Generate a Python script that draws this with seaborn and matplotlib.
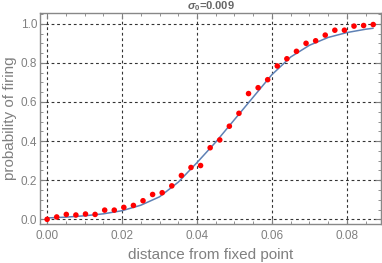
import numpy as np
import pandas as pd
import matplotlib
matplotlib.use("Agg")
import matplotlib.pyplot as plt
import seaborn as sns
from matplotlib.ticker import MultipleLocator, FormatStrFormatter

sns.set_style("white")
plt.rcParams['font.family'] = ['Liberation Sans', 'DejaVu Sans']
plt.rcParams['mathtext.fontset'] = 'custom'
plt.rcParams['mathtext.it'] = 'Liberation Sans:italic:bold'
plt.rcParams['mathtext.rm'] = 'Liberation Sans:bold'

title = "$\\sigma_0$=0.009"
xlabel = "distance from fixed point"
ylabel = "probability of firing"

dist = [0.0, 0.00256, 0.00512, 0.00768, 0.01024, 0.0128, 0.01536, 0.01792, 0.02047, 0.02303,
        0.02559, 0.02815, 0.03071, 0.03327, 0.03583, 0.03839, 0.04095, 0.04351, 0.04607, 0.04863,
        0.05119, 0.05375, 0.05631, 0.05886, 0.06142, 0.06398, 0.06654, 0.0691, 0.07166, 0.07422,
        0.07678, 0.07934, 0.0819, 0.08446, 0.08702]
prob = [0.000, 0.012, 0.025, 0.022, 0.027, 0.025, 0.047, 0.047, 0.061, 0.071,
        0.095, 0.127, 0.136, 0.171, 0.224, 0.265, 0.275, 0.366, 0.406, 0.476,
        0.542, 0.643, 0.673, 0.714, 0.784, 0.821, 0.859, 0.900, 0.913, 0.942,
        0.967, 0.967, 0.988, 0.991, 0.996]

fit_x = [0.0, 0.005, 0.01, 0.015, 0.02, 0.025, 0.03, 0.035, 0.04, 0.045,
         0.05, 0.055, 0.06, 0.065, 0.07, 0.075, 0.08, 0.085, 0.087]
fit_y = [0.007, 0.011, 0.018, 0.028, 0.044, 0.072, 0.115, 0.19, 0.29, 0.395,
         0.51, 0.625, 0.74, 0.83, 0.89, 0.93, 0.955, 0.972, 0.977]

pts = pd.DataFrame({"x": dist, "y": prob})
fit = pd.DataFrame({"x": fit_x, "y": fit_y})

fig = plt.figure(figsize=(3.82, 2.63), dpi=100)
ax = fig.add_axes([40/382, (263-224)/263, 341/382, 211/263])

sns.lineplot(data=fit, x="x", y="y", ax=ax, color="#5E81B5", lw=1.1, zorder=3)
sns.scatterplot(data=pts, x="x", y="y", ax=ax, color="#FF0000", s=16, edgecolor="none", zorder=4)

ax.set_xlim(-0.0019, 0.0891)
ax.set_ylim(-0.024, 1.055)
ax.xaxis.set_major_locator(MultipleLocator(0.02))
ax.xaxis.set_minor_locator(MultipleLocator(0.005))
ax.yaxis.set_major_locator(MultipleLocator(0.2))
ax.yaxis.set_minor_locator(MultipleLocator(0.05))
ax.xaxis.set_major_formatter(FormatStrFormatter("%.2f"))
ax.yaxis.set_major_formatter(FormatStrFormatter("%.1f"))

gc = "#808080"
ax.grid(True, which="major", color="#333333", linestyle=(0, (2.5, 2.5)), linewidth=0.8)
ax.tick_params(which="both", direction="in", colors=gc, labelcolor=gc, labelsize=8.5,
               bottom=True, left=True, top=True, right=True)
ax.tick_params(which="major", length=4, width=0.8)
ax.tick_params(axis="y", which="major", pad=2)
ax.tick_params(axis="x", which="major", pad=4)
ax.tick_params(which="minor", length=2, width=0.6)
for s in ax.spines.values():
    s.set_color("#888888")
    s.set_linewidth(1.0)

ax.set_xlabel(xlabel, color=gc, fontsize=11)
ax.xaxis.set_label_coords(0.5, -24/211)
ax.xaxis.label.set_va("top")
ax.set_ylabel(ylabel, color=gc, fontsize=11)
ax.yaxis.set_label_coords(-23/341, 0.5)
ax.set_title(title, color="#666666", fontsize=8, fontweight="bold", pad=1)

fig.savefig("out.png", dpi=100)
